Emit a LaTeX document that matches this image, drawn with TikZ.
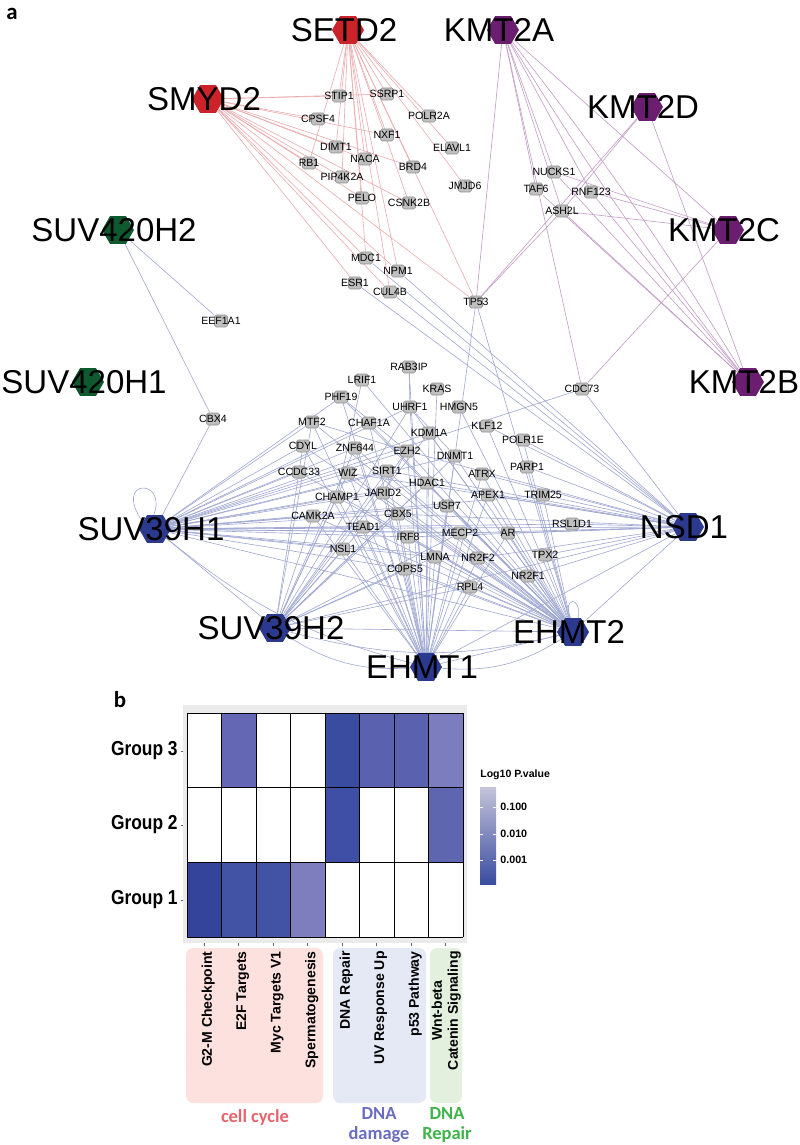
\documentclass[tikz,border=0pt]{standalone}
\usepackage{fontspec}
\setmainfont{Liberation Sans}
\newfontfamily\narrowf[FakeStretch=0.86]{Liberation Sans}
\newfontfamily\calf{Carlito}
\usetikzlibrary{shapes.geometric, backgrounds}

\definecolor{hubred}{HTML}{CC2229}
\definecolor{hubpurple}{HTML}{6B1E70}
\definecolor{hubgreen}{HTML}{0E5A2E}
\definecolor{hubblue}{HTML}{2B3A8F}
\definecolor{boxgray}{HTML}{BFBFBF}
\definecolor{boxline}{HTML}{8F8F8F}
\definecolor{edgered}{HTML}{EBABAD}
\definecolor{edgepurple}{HTML}{C39BC6}
\definecolor{edgeblue}{HTML}{A0A8D2}
\definecolor{hmA}{HTML}{35449B}
\definecolor{hmB}{HTML}{4253A6}
\definecolor{hmC}{HTML}{7E7EBE}
\definecolor{hmD}{HTML}{6468B4}
\definecolor{hmE}{HTML}{3A4CA0}
\definecolor{hmF}{HTML}{5A61AE}
\definecolor{hmG}{HTML}{7B7DBE}
\definecolor{hmH}{HTML}{3E4FA5}
\definecolor{hmI}{HTML}{5F66B0}
\definecolor{catpink}{HTML}{FDE1DF}
\definecolor{catblue}{HTML}{E4E9F5}
\definecolor{catgreen}{HTML}{E3F0DE}
\definecolor{txtred}{HTML}{E8636B}
\definecolor{txtblue}{HTML}{6A6DBF}
\definecolor{txtgreen}{HTML}{3DB34A}

% hub hexagon with its name on top
\newcommand{\hub}[4]{
\node[hubhex, fill=#4] (#1) at (#2,#3) {};
\node[hubtext] (#1-t) at ([xshift=-0.08cm]#1.center) {#1};
}
% grey partner box with its name
\newcommand{\gn}[3]{
\node[gbox] (#1) at (#2,#3) {};
\node[gtext] (#1-t) at (#1.center) {#1};
}

\begin{document}
\begin{tikzpicture}[x=0.02cm, y=-0.02cm,
  hubhex/.style={regular polygon, regular polygon sides=6, minimum size=0.64cm, inner sep=0pt, draw=none},
  hubtext/.style={font=\fontsize{18.8}{20}\selectfont, inner sep=0pt},
  gbox/.style={rectangle, rounded corners=1pt, minimum width=0.26cm, minimum height=0.24cm, inner sep=0pt, fill=boxgray, draw=boxline, line width=0.3pt},
  gtext/.style={font=\fontsize{6}{7}\selectfont, inner sep=0pt},
  redge/.style={edgered, line width=0.35pt},
  pedge/.style={edgepurple, line width=0.35pt},
  bedge/.style={edgeblue, line width=0.35pt},
  rowlab/.style={font=\narrowf\bfseries\fontsize{11.5}{12}\selectfont, anchor=east, inner sep=0pt},
  collab/.style={font=\bfseries\fontsize{8}{9}\selectfont, rotate=90, anchor=east, align=center, inner sep=0pt},
  catlab/.style={font=\calf\bfseries\fontsize{10.5}{11}\selectfont, align=center, inner sep=0pt}]

\useasboundingbox (0,0) rectangle (800,1145);

\node[font=\calf\bfseries\fontsize{13}{14}\selectfont] (pa) at (12,14) {a};
\node[font=\calf\bfseries\fontsize{13}{14}\selectfont] (pb) at (120,700) {b};

% hubs
\hub{SETD2}{348}{30}{hubred}
\hub{SMYD2}{208}{99}{hubred}
\hub{KMT2A}{503}{30}{hubpurple}
\hub{KMT2D}{647}{107}{hubpurple}
\hub{KMT2C}{728}{230}{hubpurple}
\hub{KMT2B}{748}{382}{hubpurple}
\hub{SUV420H2}{118}{230}{hubgreen}
\hub{SUV420H1}{88}{382}{hubgreen}
\hub{SUV39H1}{155}{529}{hubblue}
\hub{SUV39H2}{275}{628}{hubblue}
\hub{EHMT1}{426}{667}{hubblue}
\hub{EHMT2}{573}{632}{hubblue}
\hub{NSD1}{688}{527}{hubblue}

% red partners
\gn{STIP1}{339}{96}
\gn{SSRP1}{387}{94}
\gn{CPSF4}{318}{119}
\gn{POLR2A}{429}{116}
\gn{NXF1}{387}{135}
\gn{DIMT1}{336}{147}
\gn{ELAVL1}{452}{148}
\gn{RB1}{309}{163}
\gn{NACA}{365}{159}
\gn{BRD4}{413}{167}
\gn{PIP4K2A}{342}{177}
\gn{JMJD6}{465}{186}
\gn{PELO}{362}{198}
\gn{CSNK2B}{409}{203}
\gn{MDC1}{366}{258}
\gn{NPM1}{398}{271}
\gn{ESR1}{355}{283}
\gn{CUL4B}{390}{292}
\gn{TP53}{476}{302}

% purple partners
\gn{NUCKS1}{554}{172}
\gn{TAF6}{536}{189}
\gn{RNF123}{591}{192}
\gn{ASH2L}{562}{211}
\gn{CDC73}{582}{389}

% blue partners
\gn{EEF1A1}{221}{321}
\gn{CBX4}{213}{419}
\gn{RAB3IP}{409}{367}
\gn{LRIF1}{362}{380}
\gn{PHF19}{341}{397}
\gn{UHRF1}{410}{407}
\gn{KRAS}{437}{389}
\gn{HMGN5}{459}{407}
\gn{MTF2}{312}{422}
\gn{CHAF1A}{369}{423}
\gn{KDM1A}{429}{433}
\gn{KLF12}{487}{426}
\gn{POLR1E}{523}{440}
\gn{CDYL}{303}{446}
\gn{ZNF644}{355}{448}
\gn{EZH2}{407}{451}
\gn{DNMT1}{455}{456}
\gn{PARP1}{527}{467}
\gn{CCDC33}{299}{472}
\gn{WIZ}{348}{473}
\gn{SIRT1}{387}{471}
\gn{ATRX}{482}{474}
\gn{HDAC1}{427}{483}
\gn{CHAMP1}{337}{497}
\gn{JARID2}{383}{493}
\gn{APEX1}{488}{495}
\gn{TRIM25}{543}{495}
\gn{USP7}{447}{506}
\gn{CAMK2A}{313}{516}
\gn{CBX5}{398}{514}
\gn{RSL1D1}{572}{524}
\gn{TEAD1}{363}{527}
\gn{MECP2}{460}{533}
\gn{AR}{508}{533}
\gn{IRF8}{408}{537}
\gn{NSL1}{343}{549}
\gn{LMNA}{435}{557}
\gn{NR2F2}{478}{558}
\gn{TPX2}{545}{555}
\gn{COPS5}{405}{569}
\gn{NR2F1}{528}{576}
\gn{RPL4}{470}{587}

\begin{scope}[on background layer]
% red edges
\foreach \t in {STIP1,SSRP1,POLR2A,NXF1,DIMT1,NACA,BRD4,ELAVL1,JMJD6,PIP4K2A,PELO,CSNK2B,MDC1,NPM1,CUL4B,TP53,RB1}
  \draw[redge] (SETD2) -- (\t);
\foreach \t in {STIP1,SSRP1,CPSF4,NXF1,DIMT1,RB1,NACA,PIP4K2A,PELO,CSNK2B,BRD4,MDC1,ESR1,NPM1,CUL4B,TP53}
  \draw[redge] (SMYD2) -- (\t);
% purple edges
\foreach \t in {NUCKS1,TAF6,ASH2L,RNF123,KMT2C,TP53,CDC73}
  \draw[pedge] (KMT2A) -- (\t);
\draw[pedge] (KMT2A) to[bend left=3] (KMT2B);
\draw[pedge] (KMT2A) to[bend right=3] (KMT2B);
\foreach \t in {ASH2L,TP53,KMT2B}
  \draw[pedge] (KMT2D) -- (\t);
\foreach \t in {ASH2L,RNF123,CDC73,NUCKS1}
  \draw[pedge] (KMT2C) -- (\t);
\foreach \t in {NUCKS1,TAF6,ASH2L,RNF123}
  \draw[pedge] (KMT2B) -- (\t);
\draw[pedge] (ASH2L) -- (TP53);
% blue edges
\draw[bedge] (SUV420H2) -- (EEF1A1);
\draw[bedge] (SUV420H2) -- (CBX4);
\draw[bedge] (CBX4) -- (SUV39H1);
\draw[bedge] (CDC73) -- (SUV39H1);
\foreach \t in {MTF2,CDYL,CCDC33,WIZ,ZNF644,SIRT1,CHAMP1,CAMK2A,JARID2,CBX5,TEAD1,IRF8,NSL1,HDAC1,EZH2,KDM1A,DNMT1,UHRF1,CHAF1A,PHF19,MECP2,USP7,AR,NR2F2,LMNA,COPS5,TRIM25,RSL1D1,NSD1,SUV39H2,EHMT2}
  \draw[bedge] (SUV39H1) -- (\t);
\foreach \t in {CDYL,MTF2,WIZ,CHAMP1,CAMK2A,TEAD1,NSL1,ZNF644,HDAC1,CBX5,SIRT1,EZH2,DNMT1,UHRF1,KDM1A,MECP2,LMNA,COPS5,RPL4,EHMT2,NSD1}
  \draw[bedge] (SUV39H2) -- (\t);
\foreach \t in {PHF19,MTF2,CDYL,WIZ,ZNF644,CHAF1A,UHRF1,KDM1A,EZH2,SIRT1,HDAC1,DNMT1,JARID2,CBX5,IRF8,TEAD1,USP7,MECP2,LMNA,COPS5,NR2F2,RPL4,NSL1,CHAMP1,CAMK2A,KRAS,RAB3IP,TP53,ATRX,APEX1,AR,NSD1}
  \draw[bedge] (EHMT1) -- (\t);
\foreach \t in {LRIF1,PHF19,MTF2,CDYL,CCDC33,WIZ,ZNF644,CHAF1A,UHRF1,KDM1A,EZH2,SIRT1,HDAC1,DNMT1,KLF12,HMGN5,POLR1E,ATRX,PARP1,APEX1,TRIM25,JARID2,CBX5,IRF8,USP7,MECP2,AR,NR2F2,NR2F1,TPX2,RPL4,LMNA,COPS5,TP53,CAMK2A,CHAMP1,TEAD1,NSL1,NSD1}
  \draw[bedge] (EHMT2) -- (\t);
\foreach \t in {PARP1,TRIM25,RSL1D1,AR,TPX2,NR2F1,NR2F2,MECP2,POLR1E,KLF12,ATRX,APEX1,HDAC1,CBX5,IRF8,MDC1,ESR1,NPM1,CUL4B,SIRT1,WIZ,EZH2,CDC73}
  \draw[bedge] (NSD1) -- (\t);
\foreach \t in {PHF19,MTF2,JARID2}
  \draw[bedge] (EZH2) -- (\t);
\draw[bedge] (UHRF1) -- (DNMT1);
\draw[bedge] (LRIF1) -- (CHAMP1);
\draw[bedge] (RAB3IP) -- (UHRF1);
\draw[bedge] (SUV39H1) to[bend right=12] (EHMT1);
\draw[bedge] (SUV39H2) to[bend right=18] (EHMT1);
\draw[bedge] (SUV39H2) to[bend right=14] (EHMT2);
\draw[bedge] (EHMT1) to[bend right=18] (EHMT2);
\draw[bedge] (EHMT1) -- (EHMT2);
% self loops
\draw[bedge] (SUV39H1.150) .. controls (112,478) and (168,478) .. (SUV39H1.95);
\draw[bedge] (EHMT2.100) .. controls (562,596) and (582,596) .. (EHMT2.70);
\end{scope}

% panel b: heat map
\fill[black!8] (183,705) rectangle (467,943);
\fill[white] (187,713) rectangle (463,937);
\foreach \c/\r/\col in {2/3/hmD, 5/3/hmE, 6/3/hmF, 7/3/hmF, 8/3/hmG,
                        5/2/hmH, 8/2/hmI,
                        1/1/hmA, 2/1/hmB, 3/1/hmB, 4/1/hmC}
  \fill[\col] ({187+(\c-1)*34.5},{713+(3-\r)*74.7}) rectangle ++(34.5,74.7);
\foreach \i in {0,...,8}
  \draw[line width=0.5pt] ({187+\i*34.5},713) -- ({187+\i*34.5},937);
\foreach \j in {0,...,3}
  \draw[line width=0.5pt] (187,{713+\j*74.7}) -- (463,{713+\j*74.7});

\foreach \r/\yy in {3/751, 2/825, 1/900}{
  \node[rowlab] (g\r) at (178,\yy) {Group \r};
  \draw[black!60, line width=0.4pt] (180.5,\yy) -- (183,\yy);
}

% category boxes
\fill[catpink, rounded corners=4pt] (186,948) rectangle (323,1103);
\fill[catblue, rounded corners=4pt] (333,948) rectangle (426,1103);
\fill[catgreen, rounded corners=4pt] (430,948) rectangle (462,1103);

\foreach \i/\txt in {1/G2-M Checkpoint, 2/E2F Targets, 3/Myc Targets V1, 4/Spermatogenesis,
                     5/DNA Repair, 6/UV Response Up, 7/p53 Pathway}{
  \draw[black!60, line width=0.4pt] ({187+(\i-0.5)*34.5},943) -- ({187+(\i-0.5)*34.5},946);
  \node[collab] (col\i) at ({187+(\i-0.5)*34.5+4},951) {\txt};
}
\draw[black!60, line width=0.4pt] ({187+7.5*34.5},943) -- ({187+7.5*34.5},946);
\node[collab] (col8) at ({187+7.5*34.5+0.5},951) {Wnt-beta\\Catenin Signaling};

\node[catlab, text=txtred] (cc) at (255,1117) {cell cycle};
\node[catlab, text=txtblue] (dd) at (379,1125) {DNA\\damage};
\node[catlab, text=txtgreen] (dr) at (447,1125) {DNA\\Repair};

% legend
\node[font=\bfseries\fontsize{6}{7}\selectfont, anchor=west, inner sep=0pt] (lt) at (480,775) {Log10 P.value};
\shade[top color=black!15!hmC!40!white, bottom color=hmE] (480,787) rectangle (496,884);
\foreach \v/\yy in {0.100/807, 0.010/834, 0.001/860}{
  \draw[white, line width=0.5pt] (480,\yy) -- (483,\yy) (493,\yy) -- (496,\yy);
  \node[font=\bfseries\fontsize{6.1}{7}\selectfont, anchor=west, inner sep=0pt] at (500,\yy) {\v};
}
\end{tikzpicture}
\end{document}
